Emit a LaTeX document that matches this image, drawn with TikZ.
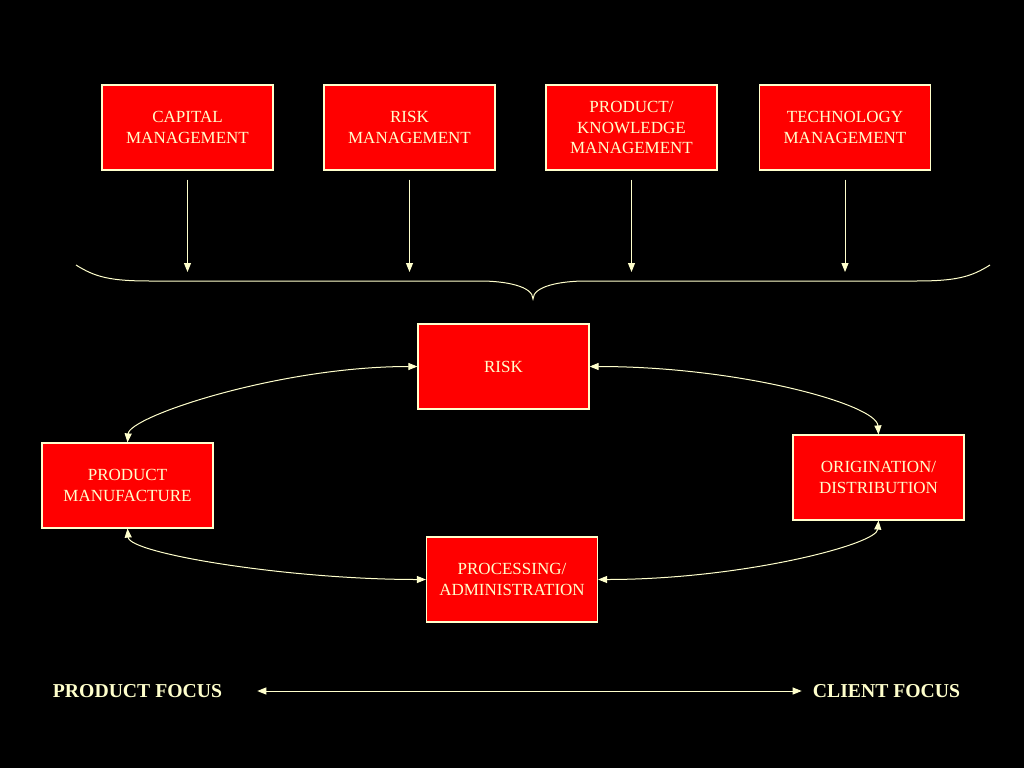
\documentclass[tikz,border=0pt]{standalone}
\usepackage{fontspec}
\setmainfont{Liberation Serif}
\usetikzlibrary{arrows.meta}
\definecolor{cream}{HTML}{FFFFCC}
\definecolor{boxred}{HTML}{FF0000}
\tikzset{
  unit/.style={draw=cream, line width=1.2pt, fill=boxred, text=cream,
    minimum width=171pt, minimum height=85pt, align=center,
    font=\fontsize{17}{20.5}\selectfont},
  link/.style={draw=cream, line width=1pt, -{Triangle[width=7pt,length=9pt]}},
  twoway/.style={link, {Triangle[width=7pt,length=9pt]}-{Triangle[width=7pt,length=9pt]}},
  focus/.style={text=cream, inner sep=0pt, font=\fontsize{19.7}{22}\selectfont\bfseries}
}
\begin{document}
\begin{tikzpicture}[x=1pt, y=-1pt]
\fill[black] (0,0) rectangle (1024,768);
\useasboundingbox (0,0) rectangle (1024,768);
% management functions
\node[unit] (capital) at (187.5,127.5) {CAPITAL\\MANAGEMENT};
\node[unit] (riskman) at (409.5,127.5) {RISK\\MANAGEMENT};
\node[unit] (product) at (631.5,127.5) {PRODUCT/\\KNOWLEDGE\\MANAGEMENT};
\node[unit] (tech) at (845,127.5) {TECHNOLOGY\\MANAGEMENT};
\coordinate (line) at (0,272);
\foreach \n in {capital, riskman, product, tech}
  \draw[link, shorten <=9pt] (\n.south) -- (\n.south |- line);
% brace
\coordinate (tip) at (533,299);
\draw[cream, line width=1pt] (76,265) .. controls (95,277) and (110,281) .. (150,281)
  -- (480,281) .. controls (505,281) and (533,286) .. (tip)
  .. controls (533,286) and (561,281) .. (586,281) -- (916,281)
  .. controls (956,281) and (971,277) .. (990,265);
% business cycle
\node[unit] (risk) at (503.5,366.5) {RISK};
\node[unit] (manuf) at (127.5,485.5) {PRODUCT\\MANUFACTURE};
\node[unit] (orig) at (878.5,477.5) {ORIGINATION/\\DISTRIBUTION};
\node[unit] (proc) at (512,579.5) {PROCESSING/\\ADMINISTRATION};
\draw[twoway] (risk.west) .. controls +(-138,0) and +(2,-26) .. (manuf.north);
\draw[twoway] (risk.east) .. controls +(150,0) and +(-2,-30) .. (orig.north);
\draw[twoway] (manuf.south) .. controls +(2,25) and +(-137,0) .. (proc.west);
\draw[twoway] (proc.east) .. controls +(143,0) and +(-2,24) .. (orig.south);
% focus axis
\node[focus] (pfocus) at (137.5,691) {PRODUCT FOCUS};
\node[focus] (cfocus) at (886.5,691) {CLIENT FOCUS};
\draw[twoway, shorten <=35pt, shorten >=11pt] (pfocus.east) -- (cfocus.west);
\end{tikzpicture}
\end{document}
